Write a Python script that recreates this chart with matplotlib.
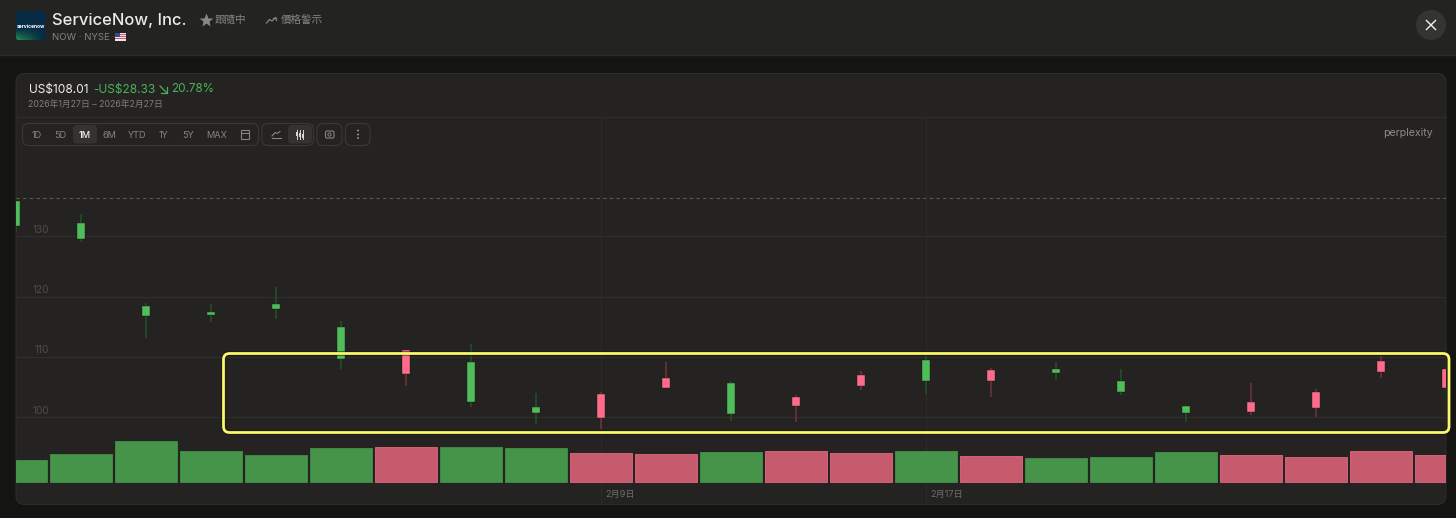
import numpy as np
import matplotlib
matplotlib.use("Agg")
import matplotlib.pyplot as plt
from matplotlib.patches import FancyBboxPatch, Rectangle, Circle
from matplotlib.transforms import ScaledTranslation

# ---------- data ----------
dates = ["1/27", "1/28", "1/29", "1/30", "2/2", "2/3", "2/4", "2/5", "2/6", "2/9", "2/10", "2/11",
         "2/12", "2/13", "2/17", "2/18", "2/19", "2/20", "2/23", "2/24", "2/25", "2/26", "2/27"]
body_high = [135.8, 132.3, 118.5, 117.5, 118.8, 115.0, 111.1, 109.2, 101.7, 103.9, 106.5, 105.6,
             103.3, 107.0, 109.5, 107.8, 108.0, 106.0, 101.9, 102.5, 104.2, 109.3, 108.0]
body_low = [131.8, 129.6, 116.7, 117.0, 117.9, 109.7, 107.1, 102.5, 100.7, 99.9, 104.9, 100.5,
            101.9, 105.1, 105.9, 105.9, 107.3, 104.2, 100.7, 100.9, 101.5, 107.4, 104.9]
high = [135.8, 133.7, 118.9, 118.8, 121.6, 115.9, 111.2, 112.1, 104.0, 104.2, 109.1, 105.9,
        103.7, 107.7, 110.3, 108.2, 109.2, 107.9, 101.9, 105.6, 104.7, 110.2, 108.0]
low = [130.8, 129.1, 113.1, 115.8, 116.3, 108.0, 105.2, 101.7, 98.9, 98.0, 104.9, 99.4,
       99.2, 104.5, 103.8, 103.4, 106.1, 103.7, 99.1, 100.4, 100.0, 106.5, 104.9]
is_green = [1, 1, 1, 1, 1, 1, 0, 1, 1, 0, 0, 1, 0, 0, 1, 0, 1, 1, 1, 0, 0, 0, 0]
volume = [4.40, 5.54, 8.08, 6.20, 5.34, 6.74, 6.88, 6.88, 6.74, 5.74, 5.60, 6.00,
          6.14, 5.68, 6.14, 5.20, 4.68, 4.94, 5.88, 5.28, 4.94, 6.14, 5.28]
prev_close = 136.34
price_ticks = [100, 110, 120, 130]
date_ticks = {"2/9": "2月9日", "2/17": "2月17日"}

# ---------- style ----------
W, H = 1456, 518
OUTER = "#141413"; PANEL = "#242322"; BORDER = "#2e2d2c"
GREEN = "#4fbd59"; PINK = "#ff6c8b"; GREEN_W = "#24502a"; PINK_W = "#70333f"
VGREEN = "#46944a"; VPINK = "#c65b6e"; VGREEN_E = "#3f8a44"; VPINK_E = "#d5617a"
plt.rcParams["font.family"] = ["Inter", "Noto Sans CJK TC", "DejaVu Sans"]

fig = plt.figure(figsize=(W / 100, H / 100), dpi=100, facecolor=OUTER)

def px_rect(x0, y0, x1, y1):
    return [x0 / W, 1 - y1 / H, (x1 - x0) / W, (y1 - y0) / H]

# ---------- chrome ----------
bg = fig.add_axes([0, 0, 1, 1], zorder=0)
bg.set_xlim(0, W); bg.set_ylim(H, 0); bg.axis("off")
bg.add_patch(Rectangle((0, 0), W, 55, fc="#232322", ec="none"))
bg.plot([0, W], [55, 55], color="#2c2b2a", lw=1)
bg.add_patch(FancyBboxPatch((16, 73.5), 1430, 431, boxstyle="round,pad=0,rounding_size=9",
                            fc=PANEL, ec=BORDER, lw=0.8))
bg.plot([16, 1446], [116.5, 116.5], color="#2f2e2d", lw=0.8)

# logo
logo = FancyBboxPatch((16, 11), 29.5, 29.5, boxstyle="round,pad=0,rounding_size=3", fc="#0c2a3e", ec="none")
bg.add_patch(logo)
grad = np.zeros((30, 30, 3))
for r in range(30):
    for c in range(30):
        k = max(0, (r - 18) / 11) * max(0, 1 - c / 26)
        grad[r, c, :] = (1 - k) * np.array([0.03, 0.17, 0.27]) + k * np.array([0.13, 0.55, 0.30])
im = bg.imshow(grad, extent=(16, 45.5, 40.5, 11), aspect="auto", zorder=2)
im.set_clip_path(logo)
bg.set_xlim(0, W); bg.set_ylim(H, 0)
bg.text(30.7, 26, "servicenow", color="white", fontsize=3.6, fontweight="bold", ha="center", va="center", zorder=3)

def t(x, y, s, size, color="#8b8a88", ha="left", weight="normal", **kw):
    return bg.text(x, y, s, fontsize=size, color=color, ha=ha, va="center", fontweight=weight, **kw)

t(52, 20.5, "ServiceNow, Inc.", 11.9, "#ececea", weight="medium")
t(52, 37.5, "NOW · NYSE ·", 6.9, "#858482")
bg.add_patch(Rectangle((115, 33), 11, 7.5, fc="#e8e8f0", ec="none"))
for yy in (33.5, 35.7, 37.9):
    bg.add_patch(Rectangle((115, yy), 11, 1.1, fc="#d8556a", ec="none"))
bg.add_patch(Rectangle((115, 33), 5, 3.8, fc="#3a4a90", ec="none"))
bg.plot([206], [20], marker="*", ms=10.5, color="#8a8987", mec="none")
t(215, 20, "跟隨中", 7.6, "#868583")
bg.plot([266.5, 269.5, 272, 275.5], [23, 19.5, 21, 17.5], color="#868583", lw=0.9)
bg.plot([273, 275.5, 275.5], [17.5, 17.5, 20], color="#868583", lw=0.9)
t(281, 20, "價格警示", 7.6, "#868583")
bg.add_patch(Circle((1431, 25), 15, fc="#343433", ec="none"))
bg.plot([1426.5, 1435.5], [20.5, 29.5], color="#f0f0ee", lw=1)
bg.plot([1426.5, 1435.5], [29.5, 20.5], color="#f0f0ee", lw=1)

t(28.5, 89.5, "US$108.01", 8.6, "#eeeeec")
t(93.5, 89.5, "-US$28.33", 8.6, "#4bb257")
bg.plot([160, 166.5], [86, 92.5], color="#4bb257", lw=0.9)
bg.plot([160.5, 166.5, 166.5], [92.5, 92.5, 86.5], color="#4bb257", lw=0.9)
t(171, 89.5, "20.78%", 8.4, "#4bb257")
t(28.5, 104.5, "2026年1月27日 – 2026年2月27日", 6.3, "#7f7e7c")

# toolbar
for x0, x1 in ((22.5, 258.5), (262, 313.5), (317, 342), (345.5, 370)):
    bg.add_patch(FancyBboxPatch((x0, 123.5), x1 - x0, 22, boxstyle="round,pad=0,rounding_size=6",
                                fc="none", ec="#393837", lw=0.8))
for x0, x1 in ((73, 97), (288, 312)):
    bg.add_patch(FancyBboxPatch((x0, 125), x1 - x0, 18.5, boxstyle="round,pad=0,rounding_size=4",
                                fc="#343332", ec="none"))
for x, s in zip((36.5, 60.5, 84.5, 109.5, 137, 163.5, 188, 216.5),
                ("1D", "5D", "1M", "6M", "YTD", "1Y", "5Y", "MAX")):
    t(x, 135, s, 6.6, "#f0f0ee" if s == "1M" else "#858482", ha="center", weight="medium" if s == "1M" else "normal")
# icons
bg.add_patch(Rectangle((240.5, 130), 8, 8.5, fc="none", ec="#858482", lw=0.8))
bg.plot([240.5, 248.5], [132.5, 132.5], color="#858482", lw=0.8)
bg.plot([272, 275, 277, 280], [136, 132.5, 133.5, 131.5], color="#858482", lw=0.8)
bg.plot([271.5, 280.5], [138, 138], color="#858482", lw=0.8)
for xx in (297, 300, 303):
    bg.plot([xx, xx], [129.5, 139], color="#d8d8d6", lw=0.7)
    bg.add_patch(Rectangle((xx - 1.2, 131.5 + (xx - 297) * 0.4), 2.4, 4, fc="#d8d8d6", ec="none"))
bg.add_patch(FancyBboxPatch((325.5, 131), 8.5, 7, boxstyle="round,pad=0,rounding_size=1.5", fc="none", ec="#858482", lw=0.8))
bg.add_patch(Circle((329.5, 134.5), 1.6, fc="none", ec="#858482", lw=0.7))
for yy in (130.5, 134.5, 138):
    bg.add_patch(Circle((358, yy), 0.9, fc="#a8a7a5", ec="none"))
t(1433, 133.5, "perplexity", 7.6, "#8d8c8a", ha="right")

# ---------- chart axes ----------
X0, X1 = 16, 1446
rect = px_rect(X0, 117, X1, 504)
PX_PER_UNIT = 6.02
ylim_price = (100 + (417.0 - 504) / PX_PER_UNIT, 100 + (417.0 - 117) / PX_PER_UNIT)
x = np.arange(len(dates))

ax = fig.add_axes(rect, zorder=1, facecolor="none")
ax.set_xlim(0, 22)
ax.set_ylim(*ylim_price)
for s in ax.spines.values():
    s.set_visible(False)
ax.set_yticks(price_ticks)
ax.set_yticklabels([str(v) for v in price_ticks])
ax.set_xticks([dates.index(d) for d in date_ticks])
ax.set_xticklabels(list(date_ticks.values()))
ax.grid(axis="y", color="#333231", lw=0.6, zorder=0)
ax.grid(axis="x", color="#2e2d2c", lw=0.6, zorder=0)
ax.tick_params(axis="y", length=0, pad=-24.0, labelsize=7.2, labelcolor="#4f4e4c")
ax.tick_params(axis="x", length=0, pad=-10.3, labelsize=6.6, labelcolor="#6e6d6b")
for lab in ax.get_yticklabels():
    lab.set_va("bottom")
    lab.set_transform(lab.get_transform() + ScaledTranslation(0, 1.0 / 72, fig.dpi_scale_trans))
for lab in ax.get_xticklabels():
    lab.set_ha("left")
    lab.set_transform(lab.get_transform() + ScaledTranslation(2.8 / 72, 0, fig.dpi_scale_trans))
ax.axhline(prev_close, color="#5a5957", lw=0.8, ls=(0, (3, 3)), zorder=1)

ax.vlines(x, low, high, colors=[GREEN_W if g else PINK_W for g in is_green], lw=1.1, zorder=3)
ax.bar(x, np.array(body_high) - np.array(body_low), bottom=body_low, width=8.0 / 65,
       color=[GREEN if g else PINK for g in is_green], edgecolor="#1d1d1c", linewidth=0.3, zorder=4)

axv = fig.add_axes(rect, zorder=2, facecolor="none")
axv.set_xlim(0, 22)
axv.set_ylim(-(504 - 481.7) / 5, (481.7 - 117) / 5)
axv.axis("off")
axv.bar(x, volume, width=62 / 65, color=[VGREEN if g else VPINK for g in is_green],
        edgecolor=[VGREEN_E if g else VPINK_E for g in is_green], linewidth=0.7, zorder=3)

# ---------- yellow annotation box ----------
top = fig.add_axes([0, 0, 1, 1], zorder=3, facecolor="none")
top.set_xlim(0, W); top.set_ylim(H, 0); top.axis("off")
top.add_patch(FancyBboxPatch((223.5, 353.5), 1225.5, 79, boxstyle="round,pad=0,rounding_size=6",
                             fc="none", ec="#141413", lw=3.0, alpha=0.8))
top.add_patch(FancyBboxPatch((223.5, 353.5), 1225.5, 79, boxstyle="round,pad=0,rounding_size=6",
                             fc="none", ec="#fbf869", lw=2.0))

fig.savefig("out.png", dpi=100, facecolor=OUTER)
